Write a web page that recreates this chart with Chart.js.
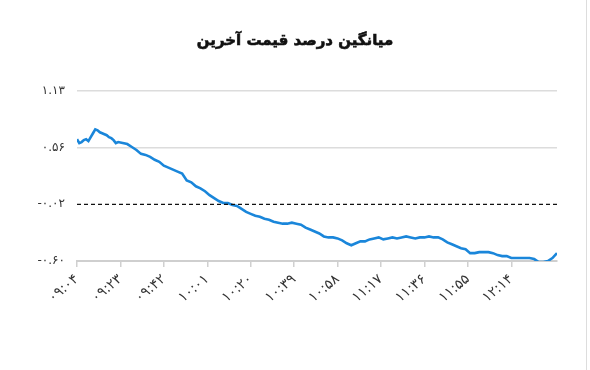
<!DOCTYPE html>
<html>
<head>
<meta charset="utf-8">
<script src="https://cdn.jsdelivr.net/npm/chart.js@4"></script>
<style>
    html, body { margin: 0; padding: 0; background: #fff; }
    #wrap { position: relative; width: 590px; height: 370px; }
    #wrap:after { content: ''; position: absolute; left: 586px; top: 0; width: 1px; height: 370px; background: #ddd; }
    #title { position: absolute; left: 0; top: 31px; width: 590px; text-align: center; direction: rtl;
        font-family: 'DejaVu Sans', sans-serif; font-size: 15px; font-weight: bold; color: #111;
        -webkit-text-stroke: 0.6px #111; }
    canvas { position: absolute; left: 0; top: 0; }
</style>
</head>
<body>
<div id="wrap">
    <canvas id="chart" width="590" height="370"></canvas>
    <div id="title">میانگین درصد قیمت آخرین</div>
</div>
<script>
// Minutes after 09:04 and the average percent for each sample
const minutes = [0, 1, 2, 3, 4, 5, 6, 7, 8, 9, 10, 11, 12, 13, 14, 15, 16, 17, 18, 20, 22, 24, 26, 28, 30,
    32, 34, 36, 38, 40, 42, 44, 46, 48, 50, 52, 54, 56, 58, 60, 62, 64, 66, 68, 70, 72, 74, 76, 78, 80,
    82, 84, 86, 88, 90, 92, 94, 96, 98, 100, 102, 104, 106, 108, 110, 112, 114, 116, 118, 120, 122, 124,
    126, 128, 130, 132, 134, 136, 138, 140, 142, 144, 146, 148, 150, 152, 154, 156, 158, 160, 162, 164,
    166, 168, 170, 172, 174, 176, 178, 180, 182, 184, 186, 188, 190, 192, 194, 196, 198, 200, 202, 204,
    206, 208, 210];
const avgPercent = [0.64, 0.60, 0.61, 0.63, 0.64, 0.62, 0.66, 0.70, 0.74, 0.73, 0.71, 0.70, 0.69, 0.68,
    0.66, 0.65, 0.63, 0.60, 0.61, 0.60, 0.59, 0.56, 0.53, 0.49, 0.48, 0.46, 0.43, 0.41, 0.37, 0.35, 0.33,
    0.31, 0.29, 0.22, 0.20, 0.16, 0.14, 0.11, 0.07, 0.04, 0.01, -0.01, -0.01, -0.03, -0.04, -0.07, -0.10,
    -0.12, -0.14, -0.15, -0.17, -0.18, -0.20, -0.21, -0.22, -0.22, -0.21, -0.22, -0.23, -0.26, -0.28,
    -0.30, -0.32, -0.35, -0.36, -0.36, -0.37, -0.39, -0.42, -0.44, -0.42, -0.40, -0.40, -0.38, -0.37,
    -0.36, -0.38, -0.37, -0.36, -0.37, -0.36, -0.35, -0.36, -0.37, -0.36, -0.36, -0.35, -0.36, -0.36,
    -0.38, -0.41, -0.43, -0.45, -0.47, -0.48, -0.52, -0.52, -0.51, -0.51, -0.51, -0.52, -0.54, -0.55,
    -0.55, -0.57, -0.57, -0.57, -0.57, -0.57, -0.58, -0.61, -0.61, -0.60, -0.57, -0.52];

// Axis ticks
const xTickMinutes = [0, 19, 38, 57, 76, 95, 114, 133, 152, 171, 190];
const xTickLabels = ['۰۹:۰۴', '۰۹:۲۳', '۰۹:۴۲', '۱۰:۰۱', '۱۰:۲۰', '۱۰:۳۹', '۱۰:۵۸', '۱۱:۱۷', '۱۱:۳۶', '۱۱:۵۵', '۱۲:۱۴'];
const yTickValues = [-0.60, -0.0233, 0.5533, 1.13];
const yTickLabels = ['-۰.۶۰', '-۰.۰۲', '۰.۵۶', '۱.۱۳'];
const dashedValue = -0.0233;

const fontFamily = "'DejaVu Sans', sans-serif";

// Dashed black reference line
const dashedLine = {
    id: 'dashedLine',
    afterDatasetsDraw(chart) {
        const ctx = chart.ctx;
        const y = chart.scales.y.getPixelForValue(dashedValue);
        ctx.save();
        ctx.strokeStyle = '#111';
        ctx.lineWidth = 1.4;
        ctx.setLineDash([4, 3]);
        ctx.beginPath();
        ctx.moveTo(chart.chartArea.left, y);
        ctx.lineTo(chart.chartArea.right, y);
        ctx.stroke();
        ctx.restore();
    }
};

var ctx = document.getElementById('chart').getContext('2d');
new Chart(ctx, {
    type: 'line',
    data: {
        datasets: [{
            data: minutes.map((m, i) => ({ x: m, y: avgPercent[i] })),
            borderColor: '#1a86da',
            borderWidth: 2.6,
            pointRadius: 0,
            tension: 0,
            fill: false
        }]
    },
    options: {
        responsive: false,
        animation: false,
        layout: { padding: { left: 0, right: 33, top: 91, bottom: 0 } },
        plugins: {
            legend: { display: false },
            tooltip: { enabled: false },
            title: { display: false }
        },
        scales: {
            x: {
                type: 'linear',
                min: 0,
                max: 210,
                afterBuildTicks: (scale) => { scale.ticks = xTickMinutes.map(v => ({ value: v })); },
                afterFit: (scale) => { scale.height = 109; },
                ticks: {
                    autoSkip: false,
                    minRotation: 40,
                    maxRotation: 40,
                    color: '#333',
                    padding: 4,
                    font: { family: fontFamily, size: 14 },
                    callback: (v, i) => xTickLabels[i]
                },
                grid: { drawOnChartArea: false, drawTicks: true, tickLength: 6, color: '#d0d0d0', lineWidth: 1.5 },
                border: { color: '#cfcfcf', width: 2 }
            },
            y: {
                min: -0.60,
                max: 1.13,
                afterBuildTicks: (scale) => { scale.ticks = yTickValues.map(v => ({ value: v })); },
                afterFit: (scale) => { scale.width = 77; },
                ticks: {
                    color: '#333',
                    padding: 12,
                    font: { family: fontFamily, size: 12 },
                    callback: (v, i) => yTickLabels[i]
                },
                grid: {
                    drawTicks: false,
                    color: (c) => (c.index === 1 || c.index === 0) ? 'rgba(0,0,0,0)' : '#dcdcdc',
                    lineWidth: 1.5
                },
                border: { display: false }
            }
        }
    },
    plugins: [dashedLine]
});
</script>
</body>
</html>
